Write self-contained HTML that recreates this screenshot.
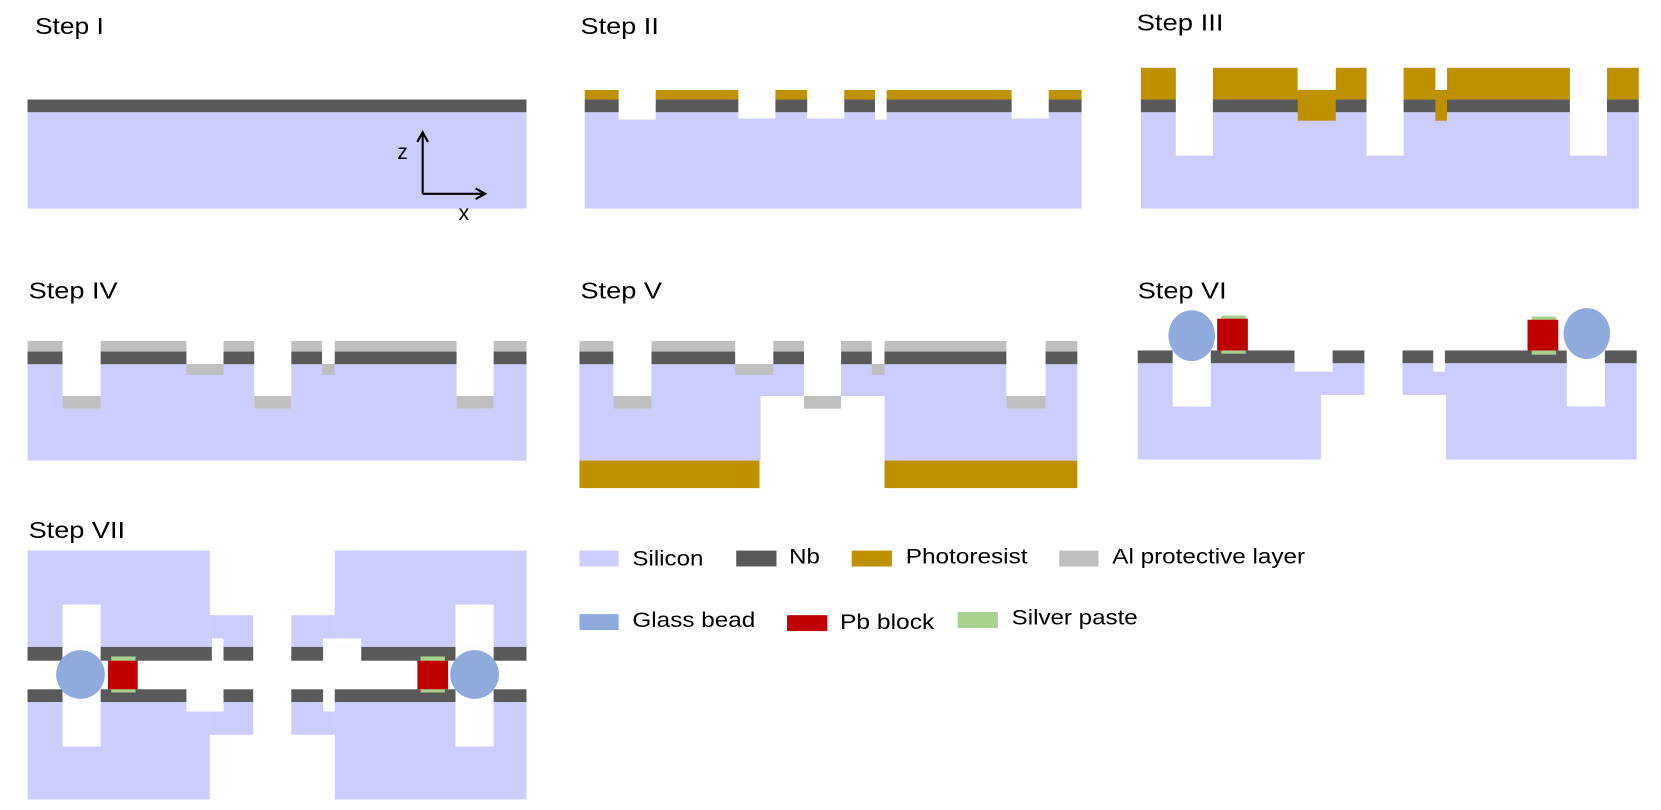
<!DOCTYPE html>
<html><head><meta charset="utf-8"><style>
html,body{margin:0;padding:0;background:#fff;}
svg{display:block;}
text{font-family:"Liberation Sans",sans-serif;}
.s{fill:#ccccff}.n{fill:#595959}.p{fill:#bf9000}.a{fill:#bfbfbf}.w{fill:#fff}.b{fill:#8faadc}.r{fill:#c00000}.g{fill:#a9d18e}
.t{font-size:22px;fill:#000}.l{font-size:20px;fill:#000}
</style></head><body>
<svg width="1661" height="810" viewBox="0 0 1568 765" preserveAspectRatio="none" xmlns="http://www.w3.org/2000/svg">
<!-- Step I -->
<text class="t" x="33" y="32" textLength="65" lengthAdjust="spacingAndGlyphs">Step I</text>
<rect class="s" x="26" y="106" width="471" height="91"/>
<rect class="n" x="26" y="94" width="471" height="12"/>
<g stroke="#000" stroke-width="2" fill="none">
<path d="M399 183 V126 M394 134 L399 125 L404 134"/>
<path d="M399 183 H457 M449 178 L458 183 L449 188"/>
</g>
<text class="l" x="375" y="150">z</text>
<text class="l" x="433" y="208">x</text>

<!-- Step II -->
<text class="t" x="548" y="32" textLength="74" lengthAdjust="spacingAndGlyphs">Step II</text>
<rect class="s" x="552" y="106" width="469" height="91"/>
<rect class="n" x="552" y="94" width="469" height="12"/>
<rect class="p" x="552" y="85" width="469" height="9"/>
<rect class="w" x="584" y="84" width="35" height="29"/>
<rect class="w" x="697" y="84" width="35" height="28"/>
<rect class="w" x="762" y="84" width="35" height="28"/>
<rect class="w" x="826" y="84" width="11" height="29"/>
<rect class="w" x="955" y="84" width="35" height="28"/>

<!-- Step III -->
<text class="t" x="1073" y="29" textLength="82" lengthAdjust="spacingAndGlyphs">Step III</text>
<rect class="s" x="1077" y="106" width="470" height="91"/>
<rect class="n" x="1077" y="94" width="470" height="12"/>
<rect class="p" x="1077" y="64" width="470" height="30"/>
<rect class="w" x="1110" y="63" width="35" height="84"/>
<rect class="w" x="1290" y="63" width="35" height="84"/>
<rect class="w" x="1482" y="63" width="35" height="84"/>
<rect class="w" x="1225" y="63" width="36" height="22"/>
<rect class="p" x="1225" y="85" width="36" height="29"/>
<rect class="w" x="1355" y="63" width="11" height="22"/>
<rect class="p" x="1355" y="85" width="11" height="29"/>

<!-- Step IV -->
<text class="t" x="27" y="282" textLength="84" lengthAdjust="spacingAndGlyphs">Step IV</text>
<rect class="s" x="26" y="344" width="471" height="91"/>
<rect class="n" x="26" y="332" width="471" height="12"/>
<rect class="a" x="26" y="322" width="471" height="10"/>
<rect class="w" x="59" y="321" width="36" height="65"/>
<rect class="w" x="240" y="321" width="35" height="65"/>
<rect class="w" x="431" y="321" width="35" height="65"/>
<rect class="a" x="59" y="374" width="36" height="12"/>
<rect class="a" x="240" y="374" width="35" height="12"/>
<rect class="a" x="431" y="374" width="35" height="12"/>
<rect class="w" x="176" y="321" width="35" height="23"/>
<rect class="a" x="176" y="344" width="35" height="10"/>
<rect class="w" x="304" y="321" width="12" height="23"/>
<rect class="a" x="304" y="344" width="12" height="10"/>

<!-- Step V -->
<text class="t" x="548" y="282" textLength="77" lengthAdjust="spacingAndGlyphs">Step V</text>
<rect class="s" x="547" y="344" width="470" height="91"/>
<rect class="n" x="547" y="332" width="470" height="12"/>
<rect class="a" x="547" y="322" width="470" height="10"/>
<rect class="w" x="579" y="321" width="36" height="65"/>
<rect class="w" x="950" y="321" width="37" height="65"/>
<rect class="a" x="579" y="374" width="36" height="12"/>
<rect class="a" x="950" y="374" width="37" height="12"/>
<rect class="w" x="759" y="321" width="35" height="53"/>
<rect class="w" x="718" y="374" width="117" height="62"/>
<rect class="a" x="759" y="374" width="35" height="12"/>
<rect class="w" x="694" y="321" width="36" height="23"/>
<rect class="a" x="694" y="344" width="36" height="10"/>
<rect class="w" x="823" y="321" width="12" height="23"/>
<rect class="a" x="823" y="344" width="12" height="10"/>
<rect class="p" x="547" y="435" width="170" height="26"/>
<rect class="p" x="835" y="435" width="182" height="26"/>

<!-- Step VI -->
<text class="t" x="1074" y="282" textLength="84" lengthAdjust="spacingAndGlyphs">Step VI</text>
<rect class="s" x="1074" y="343" width="173" height="91"/>
<rect class="s" x="1247" y="343" width="41" height="30"/>
<rect class="w" x="1222" y="343" width="36" height="8"/>
<rect class="w" x="1107" y="343" width="36" height="41"/>
<rect class="n" x="1074" y="331" width="33" height="12"/>
<rect class="n" x="1143" y="331" width="79" height="12"/>
<rect class="n" x="1258" y="331" width="30" height="12"/>
<ellipse class="b" cx="1125" cy="317" rx="22" ry="24"/>
<rect class="g" x="1153" y="298" width="23" height="36"/>
<rect class="r" x="1149" y="301" width="29" height="30"/>
<rect class="s" x="1365" y="343" width="180" height="91"/>
<rect class="s" x="1324" y="343" width="41" height="30"/>
<rect class="w" x="1353" y="343" width="11" height="8"/>
<rect class="w" x="1479" y="343" width="36" height="41"/>
<rect class="n" x="1324" y="331" width="29" height="12"/>
<rect class="n" x="1364" y="331" width="115" height="12"/>
<rect class="n" x="1515" y="331" width="30" height="12"/>
<rect class="g" x="1446" y="299" width="23" height="36"/>
<rect class="r" x="1442" y="302" width="29" height="29"/>
<ellipse class="b" cx="1498" cy="315" rx="22" ry="24"/>

<!-- Step VII -->
<text class="t" x="27" y="508" textLength="91" lengthAdjust="spacingAndGlyphs">Step VII</text>
<rect class="s" x="26" y="520" width="172" height="91"/>
<rect class="s" x="198" y="581" width="41" height="30"/>
<rect class="w" x="200" y="603" width="11" height="8"/>
<rect class="w" x="59" y="571" width="36" height="40"/>
<rect class="n" x="26" y="611" width="33" height="13"/>
<rect class="n" x="95" y="611" width="105" height="13"/>
<rect class="n" x="211" y="611" width="28" height="13"/>
<rect class="s" x="316" y="520" width="181" height="91"/>
<rect class="s" x="275" y="581" width="41" height="30"/>
<rect class="w" x="305" y="603" width="36" height="8"/>
<rect class="w" x="430" y="571" width="36" height="40"/>
<rect class="n" x="275" y="611" width="30" height="13"/>
<rect class="n" x="341" y="611" width="89" height="13"/>
<rect class="n" x="466" y="611" width="31" height="13"/>
<rect class="s" x="26" y="663" width="172" height="92"/>
<rect class="s" x="198" y="663" width="41" height="31"/>
<rect class="w" x="176" y="663" width="35" height="9"/>
<rect class="w" x="59" y="663" width="36" height="42"/>
<rect class="n" x="26" y="651" width="33" height="12"/>
<rect class="n" x="95" y="651" width="81" height="12"/>
<rect class="n" x="211" y="651" width="28" height="12"/>
<rect class="s" x="316" y="663" width="181" height="92"/>
<rect class="s" x="275" y="663" width="41" height="31"/>
<rect class="w" x="305" y="663" width="11" height="9"/>
<rect class="w" x="430" y="663" width="36" height="42"/>
<rect class="n" x="275" y="651" width="30" height="12"/>
<rect class="n" x="316" y="651" width="114" height="12"/>
<rect class="n" x="466" y="651" width="31" height="12"/>
<ellipse class="b" cx="76" cy="637" rx="23" ry="23"/>
<rect class="g" x="105" y="620" width="23" height="34"/>
<rect class="r" x="102" y="624" width="28" height="27"/>
<rect class="g" x="397" y="620" width="23" height="34"/>
<rect class="r" x="394" y="624" width="29" height="27"/>
<ellipse class="b" cx="448" cy="637" rx="23" ry="23"/>

<!-- Legend -->
<rect class="s" x="547" y="520" width="37" height="15"/>
<text class="l" x="597" y="534" textLength="67" lengthAdjust="spacingAndGlyphs">Silicon</text>
<rect class="n" x="695" y="520" width="38" height="15"/>
<text class="l" x="745" y="532" textLength="29" lengthAdjust="spacingAndGlyphs">Nb</text>
<rect class="p" x="804" y="520" width="38" height="15"/>
<text class="l" x="855" y="532" textLength="115" lengthAdjust="spacingAndGlyphs">Photoresist</text>
<rect class="a" x="1000" y="520" width="37" height="15"/>
<text class="l" x="1050" y="532" textLength="182" lengthAdjust="spacingAndGlyphs">Al protective layer</text>
<rect class="b" x="547" y="580" width="37" height="15"/>
<text class="l" x="597" y="592" textLength="116" lengthAdjust="spacingAndGlyphs">Glass bead</text>
<rect class="r" x="743" y="581" width="38" height="15"/>
<text class="l" x="793" y="594" textLength="89" lengthAdjust="spacingAndGlyphs">Pb block</text>
<rect class="g" x="904" y="578" width="38" height="15"/>
<text class="l" x="955" y="590" textLength="119" lengthAdjust="spacingAndGlyphs">Silver paste</text>
</svg>
</body></html>
